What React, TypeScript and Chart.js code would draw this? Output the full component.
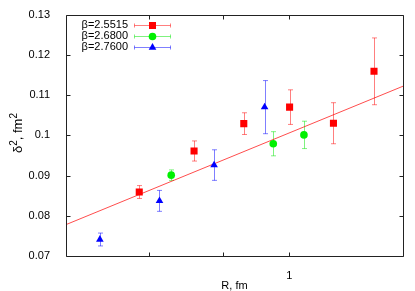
import React, { useEffect, useRef } from 'react';
import { Chart, registerables } from 'chart.js';

Chart.register(...registerables);

// ---- data ----
const seriesNames = ['β=2.5515', 'β=2.6800', 'β=2.7600'];

const redR = [0.583, 0.710, 0.849, 1.001, 1.172, 1.356];
const redD2 = [0.0859, 0.0961, 0.1029, 0.1070, 0.1030, 0.1159];
const redErr = [0.0016, 0.0025, 0.0027, 0.0043, 0.0051, 0.0083];

const greenR = [0.654, 0.944, 1.054];
const greenD2 = [0.0901, 0.0979, 0.1001];
const greenErr = [0.0013, 0.0030, 0.0034];

const blueR = [0.506, 0.627, 0.763, 0.915];
const blueD2 = [0.0741, 0.0837, 0.0926, 0.1070];
const blueErr = [0.0016, 0.0026, 0.0038, 0.0066];

const fitR = [0.448, 1.505];
const fitD2 = [0.0778, 0.1122];

const xTickValues = [0.6045, 0.7887, 1];
const xTickLabels = ['', '', '1'];
const yTickValues = [0.07, 0.08, 0.09, 0.1, 0.11, 0.12, 0.13];
const yTickLabels = ['0.07', '0.08', '0.09', '0.1', '0.11', '0.12', '0.13'];

const xTitle = 'R, fm';
const yTitleParts: [string, boolean][] = [['δ', false], ['2', true], [', fm', false], ['2', true]];

const FONT = 'Liberation Sans, Arial, sans-serif';

const toPts = (xs: number[], ys: number[]) => xs.map((x, i) => ({ x, y: ys[i] }));

function drawMarker(ctx: CanvasRenderingContext2D, style: string, x: number, y: number, color: string) {
  ctx.save();
  ctx.fillStyle = color;
  ctx.beginPath();
  if (style === 'rect') {
    ctx.rect(x - 3.5, y - 3.5, 7, 7);
  } else if (style === 'circle') {
    ctx.arc(x, y, 3.8, 0, Math.PI * 2);
  } else {
    const r = 4.4;
    for (let k = 0; k < 3; k++) {
      const a = (k * 2 * Math.PI) / 3;
      const px = x + Math.sin(a) * r;
      const py = y - Math.cos(a) * r;
      if (k === 0) ctx.moveTo(px, py);
      else ctx.lineTo(px, py);
    }
    ctx.closePath();
  }
  ctx.fill();
  ctx.restore();
}

const framePlugin = {
  id: 'frame',
  beforeDatasetsDraw(chart: any) {
    const ctx = chart.ctx as CanvasRenderingContext2D;
    const xs = chart.scales.x;
    const ys = chart.scales.y;
    chart.data.datasets.forEach((ds: any) => {
      if (!ds.errors) return;
      ctx.save();
      ctx.strokeStyle = ds.errColor;
      ctx.lineWidth = 1;
      ds.data.forEach((p: any, j: number) => {
        const x = Math.round(xs.getPixelForValue(p.x)) + 0.5;
        const y1 = ys.getPixelForValue(p.y + ds.errors[j]);
        const y2 = ys.getPixelForValue(p.y - ds.errors[j]);
        ctx.beginPath();
        ctx.moveTo(x, y1);
        ctx.lineTo(x, y2);
        ctx.moveTo(x - 2.5, y1);
        ctx.lineTo(x + 2.5, y1);
        ctx.moveTo(x - 2.5, y2);
        ctx.lineTo(x + 2.5, y2);
        ctx.stroke();
      });
      ctx.restore();
    });
  },
  afterDraw(chart: any) {
    const ctx = chart.ctx as CanvasRenderingContext2D;
    const { left, right, top, bottom } = chart.chartArea;
    const xs = chart.scales.x;
    const ys = chart.scales.y;
    ctx.save();
    ctx.strokeStyle = '#222';
    ctx.lineWidth = 1;
    const L = Math.round(left) + 0.5;
    const R = Math.round(right) + 0.5;
    const T = Math.round(top) + 0.5;
    const B = Math.round(bottom) + 0.5;
    ctx.beginPath();
    ctx.rect(L, T, R - L, B - T);
    yTickValues.forEach((v) => {
      const y = Math.round(ys.getPixelForValue(v)) + 0.5;
      ctx.moveTo(L, y);
      ctx.lineTo(L + 4, y);
      ctx.moveTo(R, y);
      ctx.lineTo(R - 4, y);
    });
    xTickValues.forEach((v) => {
      const x = Math.round(xs.getPixelForValue(v)) + 0.5;
      ctx.moveTo(x, B);
      ctx.lineTo(x, B - 4);
      ctx.moveTo(x, T);
      ctx.lineTo(x, T + 4);
    });
    ctx.stroke();

    // axis titles
    ctx.fillStyle = '#000';
    ctx.font = `11px ${FONT}`;
    ctx.textAlign = 'center';
    ctx.textBaseline = 'alphabetic';
    ctx.fillText(xTitle, (left + right) / 2, 289);

    // y title, rotated, with superscripts
    const baseFont = `13px ${FONT}`;
    const supFont = `10px ${FONT}`;
    let total = 0;
    yTitleParts.forEach(([t, sup]) => {
      ctx.font = sup ? supFont : baseFont;
      total += ctx.measureText(t).width;
    });
    ctx.save();
    ctx.translate(22, 133 + total / 2);
    ctx.rotate(-Math.PI / 2);
    ctx.textAlign = 'left';
    let cx = 0;
    yTitleParts.forEach(([t, sup]) => {
      ctx.font = sup ? supFont : baseFont;
      ctx.fillText(t, cx, sup ? -5 : 0);
      cx += ctx.measureText(t).width;
    });
    ctx.restore();

    // legend
    const styles = ['rect', 'circle', 'triangle'];
    const colors = ['#ff0000', '#00f000', '#0000ff'];
    const errColors = ['rgba(255,0,0,0.5)', 'rgba(0,230,0,0.5)', 'rgba(0,0,255,0.5)'];
    ctx.font = `11px ${FONT}`;
    ctx.textAlign = 'right';
    ctx.textBaseline = 'middle';
    seriesNames.forEach((name, i) => {
      const y = top + 10 + i * 11;
      ctx.fillStyle = '#000';
      ctx.fillText(name, left + 62, y + 0.5);
      const x1 = left + 68.5;
      const x2 = left + 104.5;
      const yy = Math.round(y) + 0.5;
      ctx.strokeStyle = errColors[i];
      ctx.beginPath();
      ctx.moveTo(x1, yy);
      ctx.lineTo(x2, yy);
      ctx.moveTo(x1, yy - 2);
      ctx.lineTo(x1, yy + 2);
      ctx.moveTo(x2, yy - 2);
      ctx.lineTo(x2, yy + 2);
      ctx.stroke();
      drawMarker(ctx, styles[i], (x1 + x2) / 2, yy, colors[i]);
    });
    ctx.restore();
  },
};

export default function App() {
  const ref = useRef<HTMLCanvasElement>(null);

  useEffect(() => {
    document.body.style.margin = '0';
    const canvas = ref.current;
    if (!canvas) return;
    Chart.defaults.font.family = FONT;
    Chart.defaults.color = '#000';

    const chart = new Chart(canvas, {
      type: 'scatter',
      data: {
        datasets: [
          {
            label: seriesNames[0],
            data: toPts(redR, redD2),
            errors: redErr,
            errColor: 'rgba(255,0,0,0.5)',
            pointStyle: 'rect',
            pointRadius: 5,
            pointBackgroundColor: '#ff0000',
            pointBorderColor: '#ff0000',
            pointBorderWidth: 0,
            order: 1,
          } as any,
          {
            label: seriesNames[1],
            data: toPts(greenR, greenD2),
            errors: greenErr,
            errColor: 'rgba(0,230,0,0.5)',
            pointStyle: 'circle',
            pointRadius: 3.8,
            pointBackgroundColor: '#00f000',
            pointBorderColor: '#00f000',
            pointBorderWidth: 0,
            order: 2,
          } as any,
          {
            label: seriesNames[2],
            data: toPts(blueR, blueD2),
            errors: blueErr,
            errColor: 'rgba(0,0,255,0.5)',
            pointStyle: 'triangle',
            pointRadius: 4.4,
            pointBackgroundColor: '#0000ff',
            pointBorderColor: '#0000ff',
            pointBorderWidth: 0,
            order: 3,
          } as any,
          {
            label: 'fit',
            data: toPts(fitR, fitD2),
            showLine: true,
            pointRadius: 0,
            borderColor: 'rgba(255,0,0,0.7)',
            borderWidth: 1,
            order: 10,
          } as any,
        ],
      },
      options: {
        animation: false,
        responsive: false,
        maintainAspectRatio: false,
        layout: { padding: { top: 14, right: 12, left: 0, bottom: 0 } },
        plugins: { legend: { display: false }, tooltip: { enabled: false } },
        scales: {
          x: {
            type: 'logarithmic',
            min: fitR[0],
            max: fitR[1],
            afterBuildTicks: (s: any) => {
              s.ticks = xTickValues.map((v) => ({ value: v }));
            },
            afterFit: (s: any) => {
              s.height = 35;
            },
            ticks: {
              autoSkip: false,
              maxRotation: 0,
              padding: 5,
              font: { size: 11 },
              color: '#000',
              callback: (_v: any, i: number) => xTickLabels[i],
            },
            grid: { display: false },
            border: { display: false },
            title: { display: false },
          },
          y: {
            type: 'linear',
            min: 0.07,
            max: 0.13,
            afterBuildTicks: (s: any) => {
              s.ticks = yTickValues.map((v) => ({ value: v }));
            },
            afterFit: (s: any) => {
              s.width = 66;
            },
            ticks: {
              padding: 8,
              font: { size: 11 },
              color: '#000',
              callback: (_v: any, i: number) => yTickLabels[i],
            },
            grid: { display: false },
            border: { display: false },
            title: { display: false },
          },
        },
      } as any,
      plugins: [framePlugin],
    });
    return () => chart.destroy();
  }, []);

  return (
    <div style={{ width: 415, height: 291 }}>
      <canvas ref={ref} width={415} height={291} />
    </div>
  );
}
